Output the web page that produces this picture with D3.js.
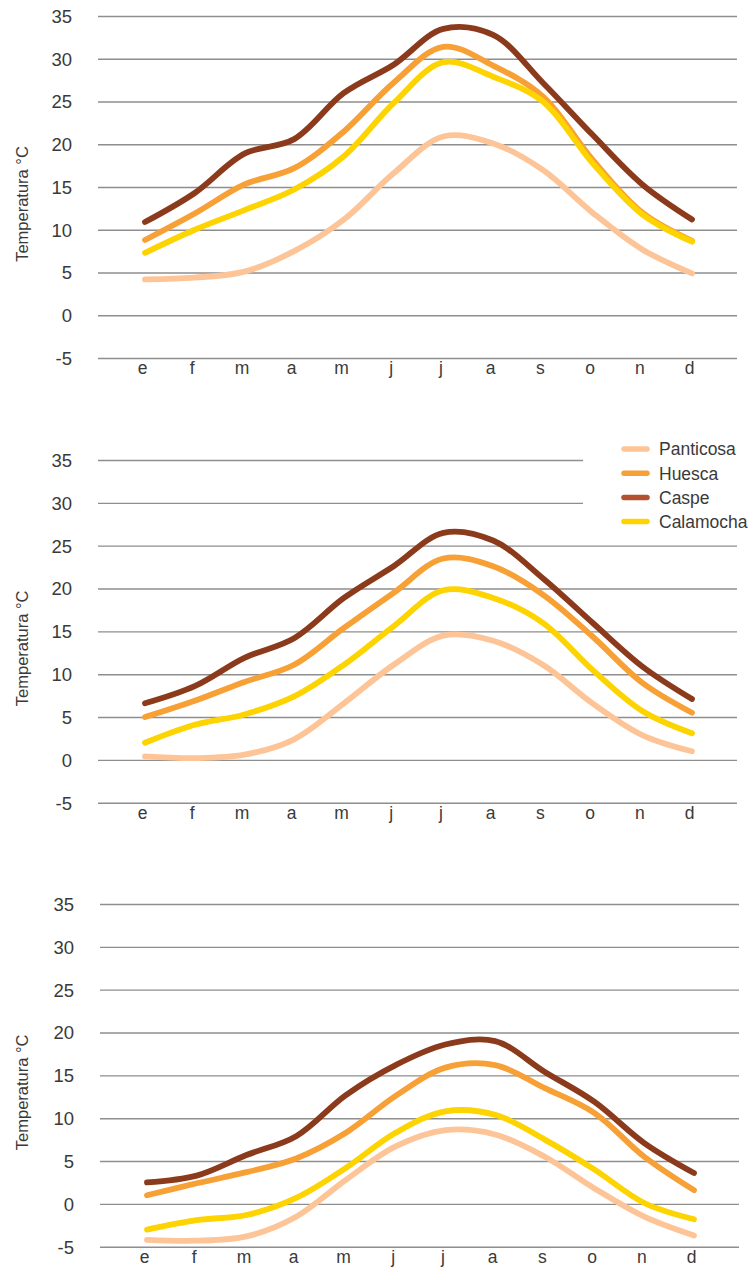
<!DOCTYPE html>
<html>
<head>
<meta charset="utf-8">
<script src="https://cdn.jsdelivr.net/npm/d3@7"></script>
<style>
  html, body { margin: 0; padding: 0; background: #fff; }
  svg { display: block; font-family: "Liberation Sans", Arial, sans-serif; }
  .tick text { fill: #3a3a3a; }
</style>
</head>
<body>
<svg id="chart" width="752" height="1268"></svg>
<script>
// Month initials (Spanish)
const months = ["e", "f", "m", "a", "m", "j", "j", "a", "s", "o", "n", "d"];
const stations = ["Panticosa", "Huesca", "Caspe", "Calamocha"];
const yTicks = [-5, 0, 5, 10, 15, 20, 25, 30, 35];

// Maximum mean temperatures (ºC)
const maxPanticosa = [4.2, 4.4, 5.1, 7.5, 11.2, 16.6, 20.9, 20.1, 17.0, 12.0, 7.7, 4.9];
const maxHuesca    = [8.8, 11.9, 15.3, 17.2, 21.5, 27.2, 31.4, 29.2, 25.6, 18.2, 12.0, 8.7];
const maxCaspe     = [10.9, 14.3, 18.9, 20.6, 26.0, 29.3, 33.5, 32.8, 27.2, 21.1, 15.3, 11.2];
const maxCalamocha = [7.3, 10.0, 12.3, 14.7, 18.6, 24.8, 29.6, 27.9, 25.0, 17.8, 11.8, 8.6];

// Mean temperatures (ºC)
const meanPanticosa = [0.4, 0.2, 0.6, 2.4, 6.6, 11.1, 14.5, 13.9, 11.1, 6.6, 2.9, 1.0];
const meanHuesca    = [5.0, 6.9, 9.1, 11.1, 15.4, 19.5, 23.5, 22.6, 19.3, 14.4, 9.0, 5.5];
const meanCaspe     = [6.6, 8.6, 11.9, 14.2, 18.9, 22.6, 26.5, 25.6, 21.2, 16.0, 10.9, 7.1];
const meanCalamocha = [2.0, 4.1, 5.3, 7.4, 11.1, 15.6, 19.8, 18.9, 16.0, 10.5, 5.7, 3.1];

// Minimum mean temperatures (ºC)
const minPanticosa = [-4.2, -4.3, -3.8, -1.5, 2.8, 6.7, 8.6, 8.1, 5.5, 1.8, -1.5, -3.7];
const minHuesca    = [1.0, 2.4, 3.7, 5.3, 8.3, 12.6, 15.9, 16.2, 13.5, 10.6, 5.5, 1.6];
const minCaspe     = [2.5, 3.3, 5.7, 7.9, 12.7, 16.2, 18.6, 19.0, 15.4, 11.9, 7.1, 3.6];
const minCalamocha = [-3.0, -1.9, -1.3, 0.7, 4.2, 8.3, 10.8, 10.4, 7.5, 4.0, 0.1, -1.8];

const lineColors = {
  Panticosa: "#fdc597",
  Huesca: "#f7a036",
  Caspe: "#8b3a1b",
  Calamocha: "#fdd300"
};
const legendColors = {
  Panticosa: "#fdc597",
  Huesca: "#f7a036",
  Caspe: "#b4502f",
  Calamocha: "#fdd300"
};

const panels = [
  { top: 16,  bottom: 358,   gx0: 98,  gx1: 737, px0: 145, px1: 692,
    series: { Panticosa: maxPanticosa, Huesca: maxHuesca, Caspe: maxCaspe, Calamocha: maxCalamocha } },
  { top: 460, bottom: 802.7, gx0: 98,  gx1: 737, px0: 145, px1: 692, legend: true,
    series: { Panticosa: meanPanticosa, Huesca: meanHuesca, Caspe: meanCaspe, Calamocha: meanCalamocha } },
  { top: 904, bottom: 1246.7, gx0: 100, gx1: 739, px0: 147, px1: 694,
    series: { Panticosa: minPanticosa, Huesca: minHuesca, Caspe: minCaspe, Calamocha: minCalamocha } }
];

const svg = d3.select("#chart");

panels.forEach(p => {
  const g = svg.append("g");
  const y = d3.scaleLinear().domain([-5, 35]).range([p.bottom, p.top]);
  const x = d3.scalePoint().domain(d3.range(months.length)).range([p.px0, p.px1]);

  // Horizontal gridlines + value labels (plain hyphen for negatives)
  const yAxis = g.append("g")
    .attr("transform", `translate(${p.gx0},0)`)
    .call(d3.axisLeft(y).tickValues(yTicks).tickSize(-(p.gx1 - p.gx0)).tickPadding(26).tickFormat(d => String(d)));
  yAxis.select(".domain").remove();
  yAxis.selectAll(".tick line").attr("stroke", "#8e8e8e").attr("stroke-width", 1.4);
  yAxis.selectAll(".tick text").attr("font-size", 18.5).attr("dy", "0.35em");
  if (p.legend) {
    // Shorten the top gridlines so the legend sits clear of them
    yAxis.selectAll(".tick").filter(d => d >= 30).select("line").attr("x2", 583 - p.gx0);
  }

  // Month labels
  const xAxis = g.append("g")
    .attr("transform", `translate(-3,${p.bottom})`)
    .call(d3.axisBottom(x).tickSize(0).tickPadding(4).tickFormat(i => months[i]));
  xAxis.select(".domain").remove();
  xAxis.selectAll(".tick text").attr("font-size", 17.5);

  // Axis title
  const cy = (p.top + p.bottom) / 2 + 17;
  g.append("text")
    .attr("transform", `translate(28,${cy}) rotate(-90)`)
    .attr("text-anchor", "middle")
    .attr("font-size", 16.5)
    .attr("fill", "#3a3a3a")
    .text("Temperatura °C");

  // Smoothed temperature curves
  const line = d3.line()
    .x((d, i) => x(i))
    .y(d => y(d))
    .curve(d3.curveCatmullRom.alpha(0.5));

  stations.forEach(s => {
    g.append("path")
      .datum(p.series[s])
      .attr("fill", "none")
      .attr("stroke", lineColors[s])
      .attr("stroke-width", 5.8)
      .attr("stroke-linecap", "round")
      .attr("stroke-linejoin", "round")
      .attr("d", line);
  });

  // Legend
  if (p.legend) {
    const lg = g.append("g").attr("transform", "translate(622,449)");
    stations.forEach((s, i) => {
      const row = lg.append("g").attr("transform", `translate(0,${i * 24.2})`);
      row.append("line")
        .attr("x1", 2).attr("x2", 25)
        .attr("stroke", legendColors[s])
        .attr("stroke-width", 5.5)
        .attr("stroke-linecap", "round");
      row.append("text")
        .attr("x", 37)
        .attr("dy", "0.36em")
        .attr("font-size", 17.5)
        .attr("fill", "#3a3a3a")
        .text(s);
    });
  }
});
</script>
</body>
</html>
